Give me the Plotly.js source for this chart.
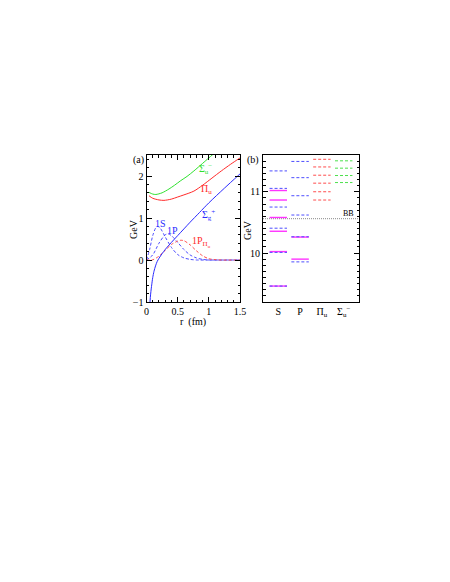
<!DOCTYPE html>
<html>
<head>
<meta charset="utf-8">
<script src="https://cdn.plot.ly/plotly-3.0.1.min.js"></script>
<style>html,body{margin:0;padding:0;background:#fff;}#plot{width:450px;height:582px;}</style>
</head>
<body>
<div id="plot"></div>
<script>
// ---- Panel (a): potentials (GeV) vs r (fm) ----
const rSigG = [0.056, 0.065, 0.077, 0.09, 0.1, 0.12, 0.145, 0.17, 0.2, 0.25, 0.3, 0.4, 0.5, 0.6, 0.7, 0.85, 1.0, 1.25, 1.5];
const vSigG = [-1.0, -0.83, -0.67, -0.52, -0.42, -0.27, -0.14, -0.04, 0.04, 0.15, 0.25, 0.42, 0.58, 0.74, 0.9, 1.13, 1.36, 1.71, 2.05];

const rPiU = [0.04, 0.1, 0.2, 0.28, 0.4, 0.5, 0.6, 0.76, 0.9, 1.05, 1.2, 1.35, 1.5];
const vPiU = [1.53, 1.47, 1.43, 1.42, 1.45, 1.5, 1.55, 1.64, 1.78, 1.95, 2.12, 2.28, 2.43];

const rSigU = [0.04, 0.1, 0.15, 0.25, 0.36, 0.45, 0.55, 0.65, 0.76, 0.9, 1.0, 1.07];
const vSigU = [1.61, 1.57, 1.56, 1.6, 1.69, 1.78, 1.89, 1.99, 2.12, 2.3, 2.43, 2.52];

// wavefunctions (arbitrary units, baseline 0)
const r1S = [0, 0.05, 0.1, 0.15, 0.18, 0.22, 0.3, 0.4, 0.5, 0.6, 0.7, 0.8, 1.0, 1.5];
const w1S = [0, 0.25, 0.58, 0.77, 0.8, 0.76, 0.55, 0.3, 0.13, 0.05, 0.015, 0, 0, 0];
const r1P = [0, 0.1, 0.2, 0.3, 0.35, 0.4, 0.5, 0.6, 0.7, 0.8, 0.9, 1.0, 1.5];
const w1P = [0, 0.12, 0.4, 0.6, 0.62, 0.58, 0.42, 0.25, 0.12, 0.05, 0.015, 0, 0];
const r1PPi = [0, 0.09, 0.2, 0.3, 0.4, 0.5, 0.55, 0.6, 0.7, 0.8, 0.9, 1.0, 1.1, 1.2, 1.5];
const w1PPi = [0, 0, 0.09, 0.23, 0.37, 0.45, 0.47, 0.46, 0.36, 0.22, 0.1, 0.03, 0.01, 0, 0];

const xTickVals = [0, 0.5, 1, 1.5];
const xTickText = ['0', '0.5', '1', '1.5'];
const yTickVals = [-1, 0, 1, 2];
const yTickText = ['\u22121', '0', '1', '2'];

// ---- Panel (b): spectrum (GeV) ----
const columns = ['S', 'P', '\u03a0<sub>u</sub>', '\u03a3<sub>u</sub><sup>\u2212</sup>'];
const columnPos = [1, 2, 3, 4];
const S_exp = [9.46, 10.023, 10.355, 10.58, 10.865, 11.02];
const S_lat = [9.46, 10.01, 10.405, 10.75, 11.055, 11.34];
const P_exp = [9.90, 10.26];
const P_lat = [9.855, 10.265, 10.62, 10.935, 11.23, 11.495];
const PiU_lat = [10.865, 11.0, 11.14, 11.27, 11.405, 11.53];
const SigU_lat = [11.15, 11.265, 11.385, 11.505];
const bbThreshold = 10.56;
const bTickVals = [10, 11];
const bTickText = ['10', '11'];

// ---------------------------------------
const W = 450, H = 582;
const FONT = 'Liberation Serif, Times New Roman, serif';
const HALF = 0.4;

function levels(col, energies, color, dash, width, name) {
  const x = [], y = [];
  energies.forEach(e => { x.push(col - HALF, col + HALF, null); y.push(e, e, null); });
  return {x, y, xaxis: 'x2', yaxis: 'y2', mode: 'lines', name, showlegend: false,
          line: {color, dash, width}, hoverinfo: 'skip'};
}
function curve(x, y, color, dash, shape) {
  return {x, y, xaxis: 'x', yaxis: 'y', mode: 'lines', showlegend: false,
          line: {color, width: 1, dash: dash || 'solid', shape: shape || 'spline', smoothing: 0.8}};
}

const traces = [
  curve(r1S, w1S, '#4d4dff', '3px,2px'),
  curve(r1P, w1P, '#4d4dff', '3px,2px'),
  curve(r1PPi, w1PPi, '#ff4d4d', '3px,2px'),
  curve(rSigG, vSigG, '#2a2aff'),
  curve(rPiU, vPiU, '#ff2a2a'),
  curve(rSigU, vSigU, '#2ee02e'),
  {x: [0.3, 4.7], y: [bbThreshold, bbThreshold], xaxis: 'x2', yaxis: 'y2', mode: 'lines', showlegend: false,
   line: {color: '#888888', width: 1, dash: '1px,1px'}},
  levels(1, S_exp, '#ff33ff', 'solid', 1.4, 'S exp'),
  levels(2, P_exp, '#ff33ff', 'solid', 1.4, 'P exp'),
  levels(1, S_lat, '#4d4dff', '3px,2px', 1, 'S lat'),
  levels(2, P_lat, '#4d4dff', '3px,2px', 1, 'P lat'),
  levels(3, PiU_lat, '#ff4d4d', '3px,2px', 1, 'Pi_u'),
  levels(4, SigU_lat, '#4de04d', '3px,2px', 1, 'Sigma_u-'),
];

function px(x) { return x / W; }
function py(y) { return 1 - y / H; }
function pann(x, y, text, opts) {
  return Object.assign({xref: 'paper', yref: 'paper', x: px(x), y: py(y), text, showarrow: false,
    xanchor: 'center', yanchor: 'middle', font: {family: FONT, size: 10, color: '#000'}}, opts || {});
}
function dann(x, y, text, color) {
  return {xref: 'x', yref: 'y', x, y, text, showarrow: false, xanchor: 'center', yanchor: 'middle',
    font: {family: FONT, size: 10, color}};
}

const axisBase = {showgrid: false, zeroline: false, showline: true, linecolor: '#000', linewidth: 1,
  mirror: 'allticks', ticks: 'inside', tickcolor: '#000', tickwidth: 1,
  tickfont: {family: FONT, size: 10, color: '#000'}};

const layout = {
  width: W, height: H, margin: {l: 0, r: 0, t: 0, b: 0},
  paper_bgcolor: '#fff', plot_bgcolor: '#fff', showlegend: false,
  xaxis: Object.assign({}, axisBase, {domain: [146.5 / W, 240 / W], range: [0, 1.5], anchor: 'y',
    tickmode: 'array', tickvals: xTickVals, ticktext: xTickText, ticklen: 5,
    minor: {dtick: 0.1, tick0: 0, ticks: 'inside', ticklen: 2.5, tickcolor: '#000', showgrid: false}}),
  yaxis: Object.assign({}, axisBase, {domain: [1 - 302 / H, 1 - 155 / H], range: [-1, 2.5], anchor: 'x',
    tickmode: 'array', tickvals: yTickVals, ticktext: yTickText, ticklen: 5,
    minor: {dtick: 0.2, tick0: 0, ticks: 'inside', ticklen: 2.5, tickcolor: '#000', showgrid: false}}),
  xaxis2: Object.assign({}, axisBase, {domain: [263 / W, 359 / W], range: [0.3, 4.7], anchor: 'y2',
    tickmode: 'array', tickvals: columnPos, ticktext: columns, ticks: '', mirror: true}),
  yaxis2: Object.assign({}, axisBase, {domain: [1 - 302 / H, 1 - 155 / H], range: [9.2, 11.6], anchor: 'x2',
    tickmode: 'array', tickvals: bTickVals, ticktext: bTickText, ticklen: 5,
    minor: {dtick: 0.1, tick0: 0, ticks: 'inside', ticklen: 2.5, tickcolor: '#000', showgrid: false}}),
  annotations: [
    pann(138, 160, '(a)'),
    pann(253, 160, '(b)'),
    pann(134, 229, 'GeV', {textangle: -90}),
    pann(248, 230, 'GeV', {textangle: -90}),
    pann(193, 322, 'r  (fm)'),
    pann(348, 213, 'BB\u0304', {font: {family: FONT, size: 8, color: '#000'}}),
    dann(0.95, 2.16, '\u03a3<sub>u</sub><sup>\u2212</sup>', '#2ee02e'),
    dann(0.955, 1.68, '\u03a0<sub>u</sub>', '#ff2a2a'),
    dann(1.0, 1.08, '\u03a3<sub>g</sub><sup>+</sup>', '#2a2aff'),
    dann(0.22, 0.86, '1S', '#2a2aff'),
    dann(0.41, 0.70, '1P', '#2a2aff'),
    dann(0.88, 0.43, '1P<sub>\u03a0<sub>u</sub></sub>', '#ff2a2a'),
  ]
};

Plotly.newPlot('plot', traces, layout, {staticPlot: true, displayModeBar: false});
</script>
</body>
</html>
